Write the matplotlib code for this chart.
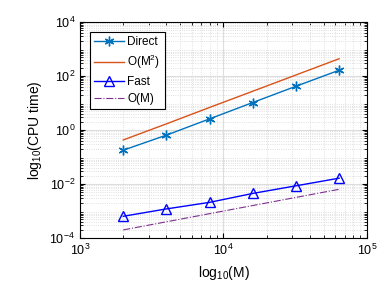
import matplotlib.pyplot as plt

plt.rcParams['font.family'] = ['Liberation Sans', 'DejaVu Sans']
plt.rcParams['mathtext.fontset'] = 'custom'
plt.rcParams['mathtext.rm'] = 'Liberation Sans'
plt.rcParams['mathtext.it'] = 'Liberation Sans'

# tamaños del problema
M = [2000, 4000, 8000, 16000, 32000, 64000]

# tiempos de CPU
t_direct = [0.18, 0.65, 2.6, 10.5, 42, 165]
t_m2 = [0.43, 1.7, 6.9, 27.5, 110, 440]
t_fast = [6.4e-4, 1.2e-3, 2.1e-3, 4.5e-3, 8.6e-3, 1.65e-2]
t_m = [2.0e-4, 4.0e-4, 8.0e-4, 1.6e-3, 3.2e-3, 6.4e-3]

fig = plt.figure(figsize=(3.85, 2.91), dpi=100)
ax = fig.add_axes([0.208, 0.182, 0.745, 0.742])

ax.loglog(M, t_direct, color='#0072BD', marker=(6, 2, 0), markersize=7, mew=1, lw=1, label='Direct')
ax.loglog(M, t_m2, color='#D95319', lw=1, label='O(M$^2$)')
ax.loglog(M, t_fast, color='b', marker='^', markersize=7, mfc='none', lw=1, label='Fast')
ax.loglog(M, t_m, color='#7E2F8E', ls='-.', lw=0.8, label='O(M)')

ax.set_xlim(1e3, 1e5)
ax.set_ylim(1e-4, 1e4)
ax.set_yticks([1e-4, 1e-2, 1e0, 1e2, 1e4])
ax.set_xticks([1e3, 1e4, 1e5])
ax.grid(True, which='major', color='#dddddd', lw=0.8)
ax.grid(True, which='minor', color='#d5d5d5', ls=':', lw=0.6)
ax.tick_params(which='both', direction='in', top=True, right=True, labelsize=9)
ax.set_xlabel('log$_{10}$(M)', fontsize=10)
ax.set_ylabel('log$_{10}$(CPU time)', fontsize=10)

leg = ax.legend(loc='upper left', fontsize=8.5, fancybox=False, edgecolor='k',
                framealpha=1, borderaxespad=0.8, handlelength=2.5, handletextpad=0.3,
                labelspacing=0.4)
leg.get_frame().set_linewidth(0.8)

fig.savefig('out.png', dpi=100)
